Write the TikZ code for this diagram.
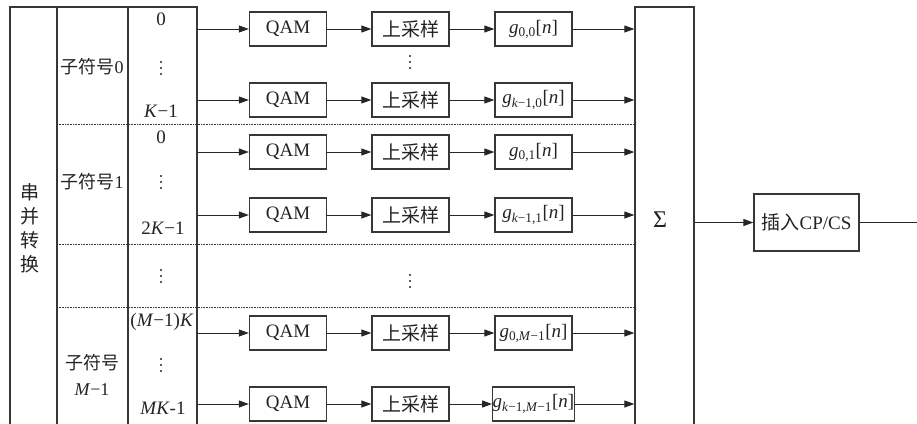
\documentclass[tikz,border=0pt]{standalone}
\usepackage{fontspec}
\setmainfont{Liberation Serif}
\newfontfamily\cjk{Noto Sans CJK SC}
\usetikzlibrary{arrows.meta}
\definecolor{linec}{RGB}{55,55,55}
\definecolor{txtc}{RGB}{35,35,35}
\begin{document}
\begin{tikzpicture}[x=1pt,y=-1pt,
  frame/.style={draw=linec,line width=1.3pt},
  sep/.style={draw=linec,line width=0.9pt,dash pattern=on 1pt off 0.6pt},
  blk/.style={draw=linec,line width=1.3pt,minimum width=77pt,minimum height=34pt,
    inner sep=0pt,text=txtc,font=\fontsize{19}{22}\selectfont},
  arr/.style={draw=black!85,line width=1pt,-{Triangle[length=10pt,width=7pt]}},
  lbl/.style={text=txtc,inner sep=0pt,font=\fontsize{19}{22}\selectfont},
  vdots/.pic={\foreach \k in {-6,0,6}{\fill[txtc] (0,\k) circle[radius=1.2pt];}}]
\clip (0,0) rectangle (917,423);

% serial/parallel table on the left
\draw[frame] (10,440) -- (10,7) -- (197,7) -- (197,440);
\draw[frame] (57,7) -- (57,440);
\draw[frame] (128,7) -- (128,440);

% summation box, open below
\node[frame,minimum width=59pt,minimum height=433pt,inner sep=0pt] (sum) at (664.5,223.5) {};
\node[text=txtc,inner sep=0pt,font=\fontsize{24}{26}\selectfont] (sig) at (660,220) {Σ};

% group separators
\foreach \y/\n in {124/a,244/b,307/c}{
  \coordinate (d\n) at (57,\y);
  \draw[sep] (d\n) -- (d\n -| sum.west);
}

% vertical label of the converter
\node[lbl,align=center,font=\cjk\fontsize{19}{24}\selectfont] (sp) at (30,228)
  {串\\并\\转\\换};

% sub-symbol labels
\node[lbl,font=\cjk\fontsize{18}{22}\selectfont] (c0) at (92,67) {子符号\rmfamily 0};
\node[lbl,font=\cjk\fontsize{18}{22}\selectfont] (c1) at (92,182) {子符号\rmfamily 1};
\node[lbl,align=center,font=\cjk\fontsize{18}{26}\selectfont] (cm) at (92,375)
  {子符号\\\rmfamily\textit{M}−1};

% branch indices
\node[lbl] (i1) at (161,19) {0};
\node[lbl] (i3) at (161,111) {\textit{K}−1};
\node[lbl] (i4) at (161,137) {0};
\node[lbl] (i6) at (163,228) {2\textit{K}−1};
\node[lbl] (i8) at (162,322) {(\textit{M}−1)\textit{K}};
\node[lbl] (i10) at (163,408) {\textit{MK}-1};

% elided rows
\foreach \x/\y in {161/68,161/182,161/276,161/365,410/62,410/281}
  \pic at (\x,\y) {vdots};

% branches: QAM -> upsampling -> filter -> sum
\foreach \i/\y/\s in {1/29/{0,0},2/100/{\textit{k}−1,0},3/152/{0,1},
                      4/215/{\textit{k}−1,1},5/333/{0,\textit{M}−1},
                      6/404/{\textit{k}−1,\textit{M}−1}}{
  \coordinate (s\i) at (197,\y);
  \node[blk] (q\i) at (288,\y) {QAM};
  \node[blk,font=\cjk\fontsize{19}{22}\selectfont] (u\i) at (410.5,\y) {上采样};
  \node[blk] (g\i) at (533.5,\y) {\textit{g}\textsubscript{\s}[\textit{n}]};
  \draw[arr] (s\i) -- (q\i);
  \draw[arr] (q\i) -- (u\i);
  \draw[arr] (u\i) -- (g\i);
  \draw[arr] (g\i) -- (g\i -| sum.west);
}

% cyclic prefix/suffix insertion
\node[blk,minimum width=105pt,minimum height=57pt] (cp) at (806.5,222.5)
  {{\cjk 插入}CP/CS};
\coordinate (out) at (925,222.5);
\draw[arr] (sum.east |- cp.west) -- (cp.west);
\draw[draw=black!85,line width=1pt] (cp.east) -- (out);
\end{tikzpicture}
\end{document}
